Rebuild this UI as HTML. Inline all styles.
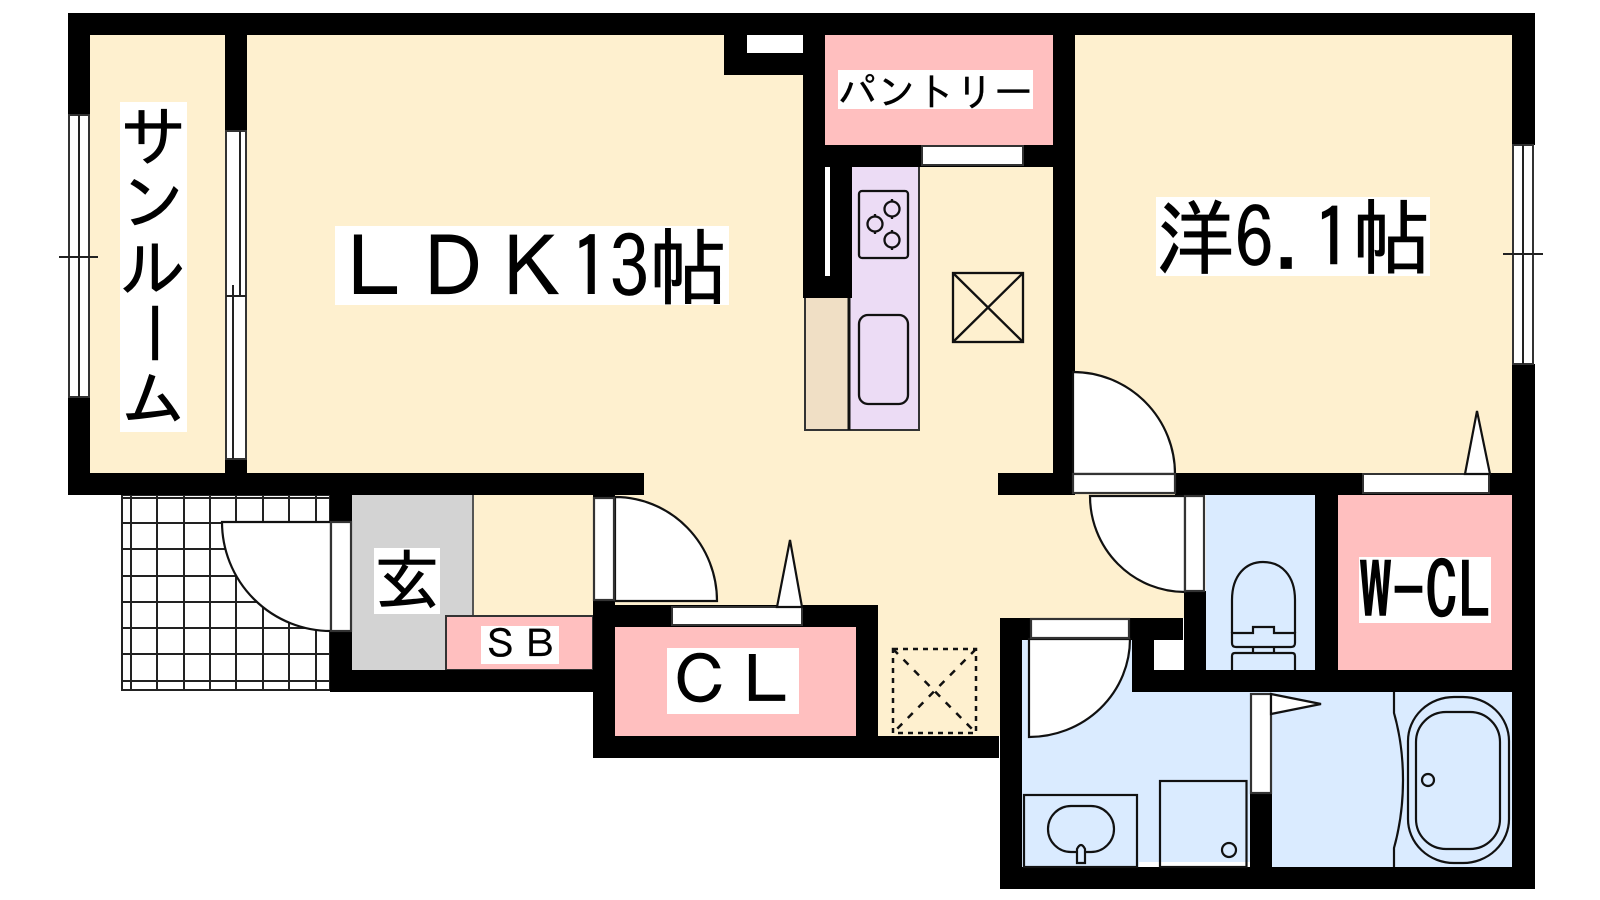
<!DOCTYPE html>
<html lang="ja"><head><meta charset="utf-8"><title>間取り図</title>
<style>
html,body{margin:0;padding:0;background:#fff;width:1600px;height:900px;overflow:hidden}
svg{display:block}
text{font-family:"IPAGothic","Liberation Sans","Noto Sans CJK JP",sans-serif;fill:#000;stroke:#000;stroke-width:.7}
</style></head><body>
<svg width="1600" height="900" viewBox="0 0 1600 900" xmlns="http://www.w3.org/2000/svg">
<!-- tile porch -->
<g stroke="#222" stroke-width="2" fill="none">
<rect x="122" y="495" width="208" height="195" fill="#fff"/>
<path d="M131 495V690M157 495V690M184 495V690M210 495V690M236 495V690M263 495V690M289 495V690M316 495V690"/>
<path d="M122 498H330M122 523H330M122 549H330M122 576H330M122 602H330M122 628H330M122 654H330M122 681H330"/>
</g>
<!-- floors -->
<rect x="68" y="13" width="1466" height="482" fill="#fef0cf"/>
<rect x="352" y="495" width="241" height="175" fill="#fef0cf"/>
<rect x="593" y="495" width="407" height="241" fill="#fef0cf"/>
<rect x="1000" y="495" width="184" height="123" fill="#fef0cf"/>
<rect x="352" y="495" width="121" height="121" fill="#d3d3d3"/>
<rect x="352" y="616" width="94" height="54" fill="#d3d3d3"/>
<path d="M473 495V616" stroke="#555" stroke-width="2"/>
<rect x="446" y="616" width="147" height="54" fill="#ffbfbf" stroke="#333" stroke-width="2"/>
<rect x="825" y="35" width="228" height="110" fill="#ffbfbf"/>
<rect x="615" y="627" width="241" height="109" fill="#ffbfbf"/>
<rect x="1338" y="495" width="174" height="175" fill="#ffbfbf"/>
<rect x="1206" y="495" width="110" height="175" fill="#daebff"/>
<rect x="1022" y="640" width="132" height="227" fill="#daebff"/>
<rect x="1132" y="692" width="380" height="175" fill="#daebff"/>
<rect x="1154" y="640" width="30" height="30" fill="#fff"/>
<rect x="1139" y="862" width="111" height="5" fill="#fff"/>
<!-- kitchen fixtures -->
<rect x="805" y="298" width="44" height="132" fill="#f0dfc5"/>
<rect x="849" y="167" width="70" height="263" fill="#ecdcf5"/>
<path d="M805 298V430H919V167" fill="none" stroke="#333" stroke-width="2"/>
<path d="M849 298V430" stroke="#111" stroke-width="3"/>
<g fill="none" stroke="#111" stroke-width="2.300">
<rect x="859" y="191" width="49" height="67" rx="3"/>
<circle cx="892" cy="209" r="7.500"/><circle cx="875" cy="224" r="7.500"/><circle cx="892" cy="240" r="7.500"/>
<path d="M892 199v3M892 216v3M875 214v3M875 231v3M892 230v3M892 247v3"/>
<rect x="859" y="315" width="49" height="89" rx="9"/>
<rect x="953" y="273" width="70" height="69"/>
<path d="M953 273L1023 342M1023 273L953 342"/>
<rect x="893" y="649" width="83" height="84" stroke-dasharray="5 5" stroke-width="2.500"/>
<path d="M893 649L976 733M976 649L893 733" stroke-dasharray="7 8" stroke-width="2.500"/>
</g>
<!-- walls -->
<g fill="#000">
<rect x="68" y="13" width="1467" height="22"/>
<rect x="68" y="13" width="22" height="102"/>
<rect x="68" y="397" width="22" height="98"/>
<rect x="68" y="473" width="576" height="22"/>
<rect x="225" y="13" width="22" height="118"/>
<rect x="225" y="459" width="22" height="20"/>
<rect x="724" y="35" width="79" height="40"/>
<rect x="803" y="13" width="22" height="285"/>
<rect x="803" y="145" width="272" height="22"/>
<rect x="825" y="145" width="27" height="153"/>
<rect x="1053" y="13" width="22" height="482"/>
<rect x="1512" y="13" width="23" height="132"/>
<rect x="1512" y="364" width="23" height="525"/>
<rect x="998" y="473" width="77" height="22"/>
<rect x="1175" y="473" width="360" height="22"/>
<rect x="1184" y="591" width="22" height="101"/>
<rect x="1315" y="473" width="23" height="219"/>
<rect x="1132" y="670" width="403" height="22"/>
<rect x="1129" y="618" width="54" height="22"/>
<rect x="1132" y="618" width="22" height="74"/>
<rect x="1000" y="618" width="22" height="271"/>
<rect x="1000" y="618" width="31" height="22"/>
<rect x="1000" y="867" width="535" height="22"/>
<rect x="1250" y="793" width="22" height="74"/>
<rect x="330" y="495" width="22" height="27"/>
<rect x="330" y="631" width="22" height="61"/>
<rect x="330" y="670" width="263" height="22"/>
<rect x="593" y="495" width="22" height="3"/>
<rect x="593" y="600" width="22" height="158"/>
<rect x="593" y="605" width="285" height="22"/>
<rect x="856" y="605" width="22" height="153"/>
<rect x="593" y="736" width="406" height="22"/>
</g>
<rect x="747" y="35" width="56" height="18" fill="#fff"/>
<rect x="825" y="167" width="5" height="109" fill="#fff"/>
<!-- windows -->
<g fill="#fff" stroke="#333" stroke-width="2">
<rect x="69" y="115" width="20" height="282"/>
<rect x="226" y="131" width="20" height="328"/>
<rect x="1513" y="145" width="20" height="219"/>
<rect x="922" y="146" width="101" height="19"/>
<rect x="1363" y="474" width="126" height="19"/>
<rect x="672" y="607" width="130" height="18"/>
</g>
<g stroke="#222" stroke-width="2" fill="none">
<path d="M79 115V397M59 257H98"/>
<path d="M240 131V296M233 296V459M226 296H246M233 285V305"/>
<path d="M1523 145V364M1503 254H1543"/>
</g>
<!-- doors -->
<g fill="#fff" stroke="#111" stroke-width="2.200">
<path d="M1073 372A102 102 0 0 1 1175 474H1073Z"/>
<rect x="1073" y="474" width="102" height="19" stroke="#333"/>
<path d="M1185 496V592A95 96 0 0 1 1090 496Z"/>
<rect x="1185" y="496" width="19" height="95" stroke="#333"/>
<path d="M331 522V631A109 109 0 0 1 222 522Z"/>
<rect x="331" y="522" width="20" height="109" stroke="#333"/>
<path d="M615 497A102 104 0 0 1 717 601H615Z"/>
<rect x="594" y="498" width="20" height="102" stroke="#333"/>
<path d="M1029 639H1130A101 98 0 0 1 1029 737Z"/>
<rect x="1031" y="619" width="98" height="19" stroke="#333"/>
<rect x="1251" y="694" width="20" height="99" stroke="#333"/>
<path d="M1465 474L1477 411L1490 474Z"/>
<path d="M777 607L790 540L802 607Z"/>
<path d="M1271 694L1321 704L1271 714Z"/>
</g>
<!-- sanitary -->
<g fill="none" stroke="#111" stroke-width="2.200">
<path d="M1232 633V600C1232 575 1246 562 1263 562C1281 562 1295 575 1295 600V633"/>
<path d="M1232 633H1253V627H1274V633H1295V643Q1295 647 1291 647H1236Q1232 647 1232 643Z"/>
<path d="M1253 647V653M1274 647V653"/>
<path d="M1232 670V656Q1232 653 1235 653H1292Q1295 653 1295 656V670"/>
<rect x="1024" y="795" width="113" height="72"/>
<rect x="1048" y="806" width="66" height="46" rx="23" ry="23"/>
<path d="M1077 863V849Q1081 841 1085 849V863Z" fill="#daebff"/>
<rect x="1160" y="781" width="86.500" height="86"/>
<circle cx="1229" cy="850" r="7"/>
<path d="M1394 692V713C1406 755 1406 805 1394 848V867"/>
<rect x="1408" y="697" width="101" height="166" rx="46" ry="44"/>
<rect x="1416" y="712" width="84" height="137" rx="30" ry="30"/>
<circle cx="1428" cy="780" r="6"/>
</g>
<!-- labels -->
<g fill="#fff">
<rect x="120" y="102" width="67" height="330"/>
<rect x="335" y="226" width="394" height="79"/>
<rect x="1156" y="197" width="274" height="79"/>
<rect x="838" y="70" width="195" height="39"/>
<rect x="374" y="548" width="66" height="66"/>
<rect x="481" y="626" width="78" height="38"/>
<rect x="667" y="648" width="132" height="66"/>
<rect x="1359" y="557" width="132" height="66"/>
</g>
<text x="120" y="160" font-size="66">サ</text>
<text x="120" y="226" font-size="66">ン</text>
<text x="120" y="292" font-size="66">ル</text>
<text transform="translate(153 333) rotate(90) translate(-33 23)" font-size="66">ー</text>
<text x="120" y="423" font-size="66">ム</text>
<text transform="translate(335 298) scale(1 1.07)" font-size="78.500">ＬＤＫ13帖</text>
<text transform="translate(1156 268) scale(1 1.05)" font-size="78.500">洋6.1帖</text>
<text x="838" y="106" font-size="39" style="stroke-width:.3">パントリー</text>
<text x="374" y="604" font-size="66">玄</text>
<text x="481" y="658" font-size="39" style="stroke-width:.3">ＳＢ</text>
<text x="667" y="704" font-size="66">ＣＬ</text>
<text transform="translate(1359 619) scale(1 1.18)" font-size="66" style="stroke-width:1.2">W-CL</text>
</svg>
</body></html>
